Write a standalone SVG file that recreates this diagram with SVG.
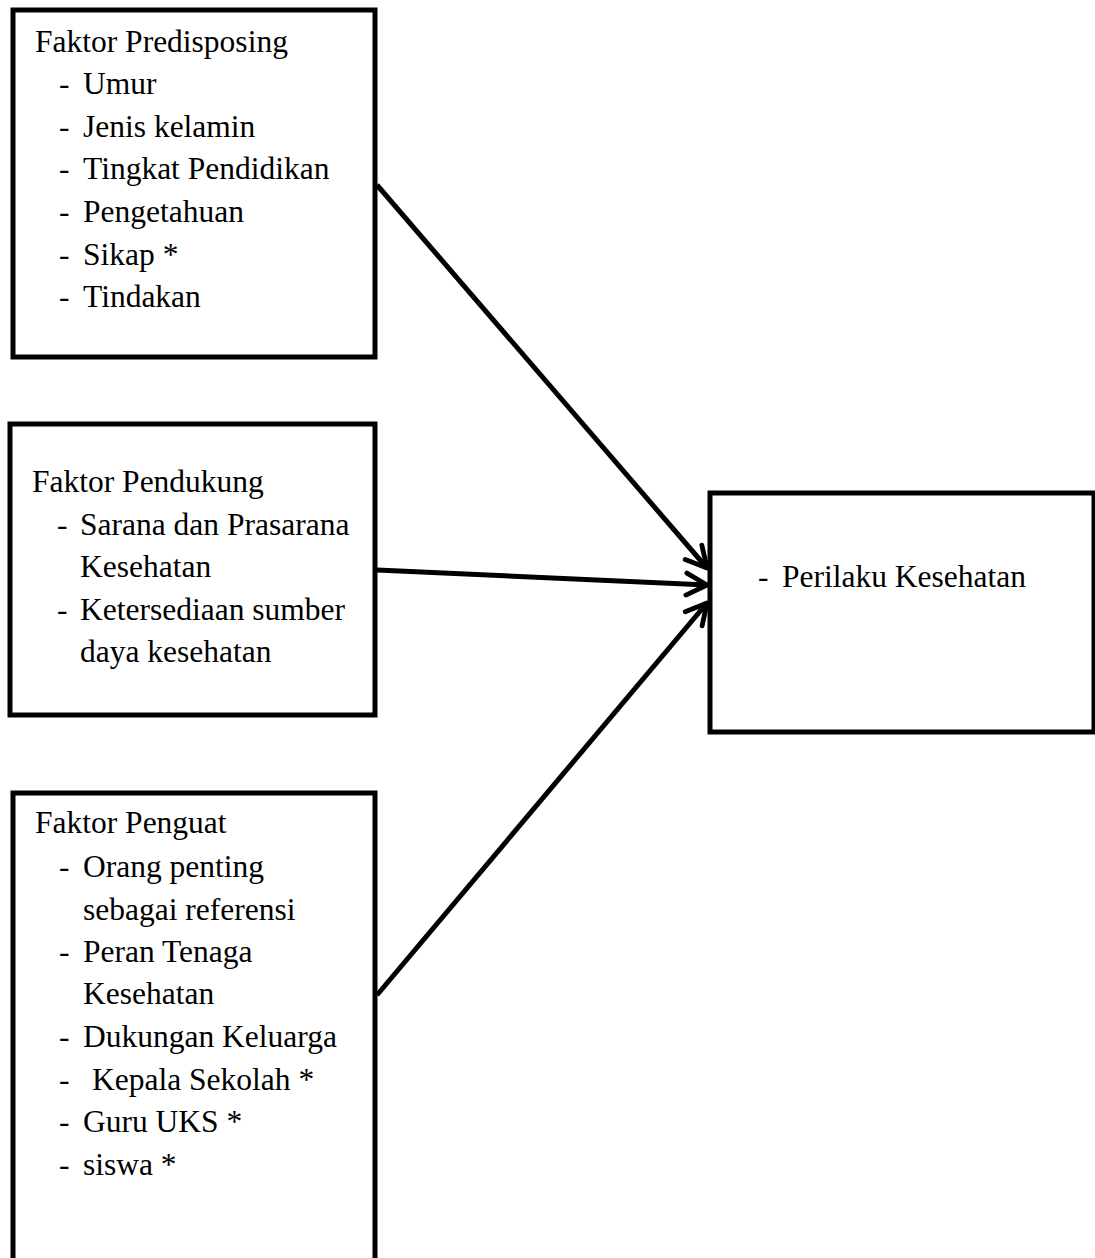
<svg xmlns="http://www.w3.org/2000/svg" width="1095" height="1258" viewBox="0 0 1095 1258">
<defs>
<style>
.box{fill:#fff;stroke:#000;stroke-width:5}
.t{font-family:"Liberation Serif","Times New Roman",serif;font-size:31.5px;fill:#000}
.conn{stroke:#000;stroke-width:5;fill:none;marker-end:url(#ah)}
</style>
<marker id="ah" viewBox="0 0 20 20" refX="18" refY="10" markerWidth="5.5" markerHeight="5.5" markerUnits="strokeWidth" orient="auto">
<path d="M3,2 L18,10 L3,18" fill="none" stroke="#000" stroke-width="3.5" stroke-linecap="round" stroke-linejoin="round"/>
</marker>
</defs>
<rect width="1095" height="1258" fill="#fff"/>
<g id="connectors">
<line class="conn" x1="377" y1="185" x2="707" y2="568"/>
<line class="conn" x1="377" y1="570" x2="707" y2="585"/>
<line class="conn" x1="377" y1="995" x2="707" y2="603"/>
</g>
<g id="predisposing">
<rect class="box" x="13" y="10" width="362" height="347"/>
<text class="t" x="35" y="52">Faktor Predisposing</text>
<text class="t" x="59" y="94">-</text><text class="t" x="83" y="94">Umur</text>
<text class="t" x="59" y="137">-</text><text class="t" x="83" y="137">Jenis kelamin</text>
<text class="t" x="59" y="179">-</text><text class="t" x="83" y="179">Tingkat Pendidikan</text>
<text class="t" x="59" y="222">-</text><text class="t" x="83" y="222">Pengetahuan</text>
<text class="t" x="59" y="265">-</text><text class="t" x="83" y="265">Sikap *</text>
<text class="t" x="59" y="307">-</text><text class="t" x="83" y="307">Tindakan</text>
</g>
<g id="pendukung">
<rect class="box" x="10" y="424" width="365" height="291"/>
<text class="t" x="32" y="492">Faktor Pendukung</text>
<text class="t" x="57" y="535">-</text><text class="t" x="80" y="535">Sarana dan Prasarana</text>
<text class="t" x="80" y="577">Kesehatan</text>
<text class="t" x="57" y="620">-</text><text class="t" x="80" y="620">Ketersediaan sumber</text>
<text class="t" x="80" y="662">daya kesehatan</text>
</g>
<g id="penguat">
<rect class="box" x="13" y="793" width="362" height="500"/>
<text class="t" x="35" y="833">Faktor Penguat</text>
<text class="t" x="59" y="877">-</text><text class="t" x="83" y="877">Orang penting</text>
<text class="t" x="83" y="920">sebagai referensi</text>
<text class="t" x="59" y="962">-</text><text class="t" x="83" y="962">Peran Tenaga</text>
<text class="t" x="83" y="1004">Kesehatan</text>
<text class="t" x="59" y="1047">-</text><text class="t" x="83" y="1047">Dukungan Keluarga</text>
<text class="t" x="59" y="1090">-</text><text class="t" x="92" y="1090">Kepala Sekolah *</text>
<text class="t" x="59" y="1132">-</text><text class="t" x="83" y="1132">Guru UKS *</text>
<text class="t" x="59" y="1175">-</text><text class="t" x="83" y="1175">siswa *</text>
</g>
<g id="perilaku">
<rect class="box" x="710" y="493" width="384" height="239"/>
<text class="t" x="758" y="587">-</text><text class="t" x="782" y="587">Perilaku Kesehatan</text>
</g>
</svg>
